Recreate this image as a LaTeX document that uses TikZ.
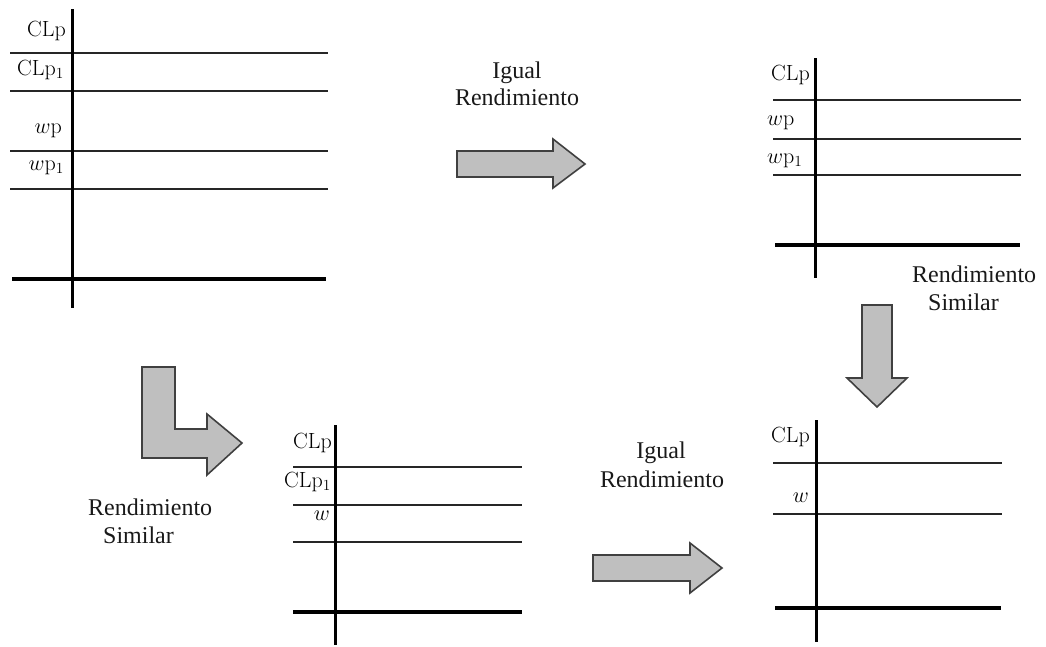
\documentclass[tikz,border=0pt]{standalone}
\usepackage{fix-cm}
\usepackage{fontspec}
\newfontfamily\capfont{Liberation Serif}
\begin{document}
\begin{tikzpicture}[x=1pt,y=-1pt,
  axisline/.style={line width=3pt,black},
  baseline3/.style={line width=3.4pt,black},
  levelline/.style={line width=1.7pt,black!85},
  lbltext/.style={inner sep=0pt,font=\fontsize{22}{26}\selectfont},
  captext/.style={inner sep=0pt,text=black!90,font=\capfont\fontsize{24}{27}\selectfont},
  blockarrow/.style={fill=black!25,draw=black!75,line width=1.6pt,line join=miter}]
\useasboundingbox (0,0) rectangle (1046,646);
% ---------------- panel 1
\draw[levelline] (10,53) -- (328,53);
\draw[levelline] (10,91) -- (328,91);
\draw[levelline] (10,151) -- (328,151);
\draw[levelline] (10,189) -- (328,189);
\draw[baseline3] (12,279) -- (326,279);
\draw[axisline] (72,9) -- (72,308);
\node[lbltext,anchor=base east] (p1a) at (66,36) {CLp};
\node[lbltext,anchor=base east] (p1b) at (64,75) {CLp$_1$};
\node[lbltext,anchor=base east] (p1c) at (62,133) {$w$p};
\node[lbltext,anchor=base east] (p1d) at (64,170) {$w$p$_1$};
% ---------------- panel 2
\draw[levelline] (773,100) -- (1021,100);
\draw[levelline] (773,139) -- (1021,139);
\draw[levelline] (773,175) -- (1021,175);
\draw[baseline3] (775,245) -- (1020,245);
\draw[axisline] (815,58) -- (815,278);
\node[lbltext,anchor=base east] (p2a) at (810,80) {CLp};
\node[lbltext,anchor=base west] (p2b) at (767,125) {$w$p};
\node[lbltext,anchor=base west] (p2c) at (767,163) {$w$p$_1$};
% ---------------- panel 3
\draw[levelline] (293,467) -- (522,467);
\draw[levelline] (293,505) -- (522,505);
\draw[levelline] (293,542) -- (522,542);
\draw[baseline3] (293,612) -- (522,612);
\draw[axisline] (335,425) -- (335,645);
\node[lbltext,anchor=base east] (p3a) at (332,448) {CLp};
\node[lbltext,anchor=base east] (p3b) at (331,487) {CLp$_1$};
\node[lbltext,anchor=base east] (p3c) at (330,520) {$w$};
% ---------------- panel 4
\draw[levelline] (773,463) -- (1002,463);
\draw[levelline] (773,514) -- (1002,514);
\draw[baseline3] (775,608) -- (1001,608);
\draw[axisline] (816,420) -- (816,642);
\node[lbltext,anchor=base east] (p4a) at (810,442) {CLp};
\node[lbltext,anchor=base east] (p4b) at (809,502) {$w$};
% ---------------- block arrows
\draw[blockarrow] (457,151) -- (553,151) -- (553,139) -- (585,164) -- (553,188) -- (553,177) -- (457,177) -- cycle;
\draw[blockarrow] (862,305) -- (892,305) -- (892,378) -- (907,378) -- (877,407) -- (847,378) -- (862,378) -- cycle;
\draw[blockarrow] (142,367) -- (175,367) -- (175,429) -- (207,429) -- (207,414) -- (242,443) -- (207,475) -- (207,458) -- (142,458) -- cycle;
\draw[blockarrow] (593,555) -- (690,555) -- (690,543) -- (722,568) -- (690,593) -- (690,581) -- (593,581) -- cycle;
% ---------------- captions
\node[captext,anchor=base] (c1a) at (517,78) {Igual};
\node[captext,anchor=base] (c1b) at (517,105) {Rendimiento};
\node[captext,anchor=base west] (c2a) at (912,282) {Rendimiento};
\node[captext,anchor=base west] (c2b) at (928,310) {Similar};
\node[captext,anchor=base west] (c3a) at (88,515) {Rendimiento};
\node[captext,anchor=base west] (c3b) at (103,543) {Similar};
\node[captext,anchor=base] (c4a) at (661,458) {Igual};
\node[captext,anchor=base] (c4b) at (662,487) {Rendimiento};
\end{tikzpicture}
\end{document}
